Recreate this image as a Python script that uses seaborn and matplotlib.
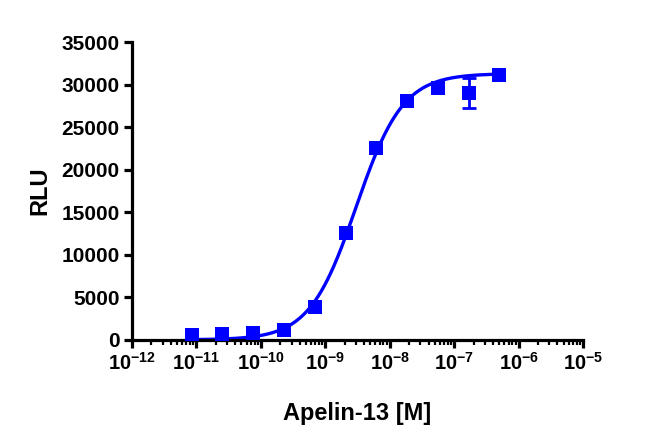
import numpy as np
import pandas as pd
import matplotlib
matplotlib.use('Agg')
import matplotlib.pyplot as plt
from matplotlib.ticker import LogLocator, FixedLocator, NullFormatter
import seaborn as sns

# Apelin-13 concentracoes (M) e sinal RLU
conc = [8.5e-12, 2.5e-11, 7.6e-11, 2.3e-10, 6.9e-10, 2.1e-9, 6.2e-9, 1.85e-8, 5.6e-8, 1.67e-7, 5.0e-7]
rlu = [600, 700, 750, 1100, 3900, 12600, 22500, 28100, 29600, 29000, 31100]
rlu_err = [0, 0, 0, 0, 0, 0, 0, 0, 0, 1800, 0]

# parametros do ajuste sigmoidal (4PL) estimados
fit_bottom = 0
fit_top = 31300
fit_logec50 = -8.52
fit_hill = 1.2

x_ticks = [1e-12, 1e-11, 1e-10, 1e-9, 1e-8, 1e-7, 1e-6, 1e-5]
x_tick_labels = [r'$\mathbf{10^{-%d}}$' % k for k in range(12, 4, -1)]
y_ticks = [0, 5000, 10000, 15000, 20000, 25000, 30000, 35000]

df = pd.DataFrame({'conc': conc, 'rlu': rlu, 'err': rlu_err})

logx = np.linspace(np.log10(conc[0]), np.log10(conc[-1]), 300)
curve = pd.DataFrame({
    'conc': 10 ** logx,
    'rlu': fit_bottom + (fit_top - fit_bottom) / (1 + 10 ** ((fit_logec50 - logx) * fit_hill)),
})

sns.set_style('ticks')
plt.rcParams['font.family'] = ['Liberation Sans', 'DejaVu Sans']
plt.rcParams['font.weight'] = 'bold'
plt.rcParams['text.color'] = 'black'
plt.rcParams['axes.labelcolor'] = 'black'
plt.rcParams['xtick.color'] = 'black'
plt.rcParams['ytick.color'] = 'black'
plt.rcParams['mathtext.fontset'] = 'custom'
plt.rcParams['mathtext.bf'] = 'Liberation Sans:bold'
plt.rcParams['mathtext.rm'] = 'Liberation Sans:bold'

fig = plt.figure(figsize=(6.5, 4.34), dpi=100)
ax = fig.add_axes([0.203, 0.217, 0.694, 0.686])

blue = '#0000ff'
sns.lineplot(data=curve, x='conc', y='rlu', color=blue, linewidth=2.4, ax=ax)
err = df[df['err'] > 0]
ax.errorbar(err['conc'], err['rlu'], yerr=err['err'], fmt='none', ecolor=blue,
            elinewidth=2, capsize=5, capthick=2)
sns.scatterplot(data=df, x='conc', y='rlu', marker='s', s=90, color=blue,
                edgecolor=blue, linewidth=0, ax=ax, zorder=5)

ax.set_xscale('log')
ax.set_xlim(1e-12, 1e-5)
ax.set_ylim(0, 35000)
ax.xaxis.set_major_locator(FixedLocator(x_ticks))
ax.set_xticklabels(x_tick_labels)
ax.xaxis.set_minor_locator(LogLocator(base=10, subs=np.arange(2, 10), numticks=20))
ax.xaxis.set_minor_formatter(NullFormatter())
ax.set_yticks(y_ticks)
ax.set_yticklabels([str(v) for v in y_ticks])

for s in ['top', 'right']:
    ax.spines[s].set_visible(False)
for s in ['left', 'bottom']:
    ax.spines[s].set_linewidth(2.3)
    ax.spines[s].set_color('black')

ax.tick_params(axis='both', which='major', length=6, width=2.3, color='black', labelcolor='black', pad=3)
ax.tick_params(axis='y', which='major', labelsize=15)
ax.tick_params(axis='x', which='major', labelsize=14.5)
ax.tick_params(axis='x', which='minor', length=3.5, width=1.6, color='black')
for lbl in ax.get_yticklabels():
    lbl.set_fontweight('bold')

ax.set_xlabel('Apelin-13 [M]', fontsize=17, fontweight='bold', labelpad=20, color='black')
ax.set_ylabel('RLU', fontsize=17, fontweight='bold', labelpad=7, color='black')

fig.savefig('out.png', dpi=100)
